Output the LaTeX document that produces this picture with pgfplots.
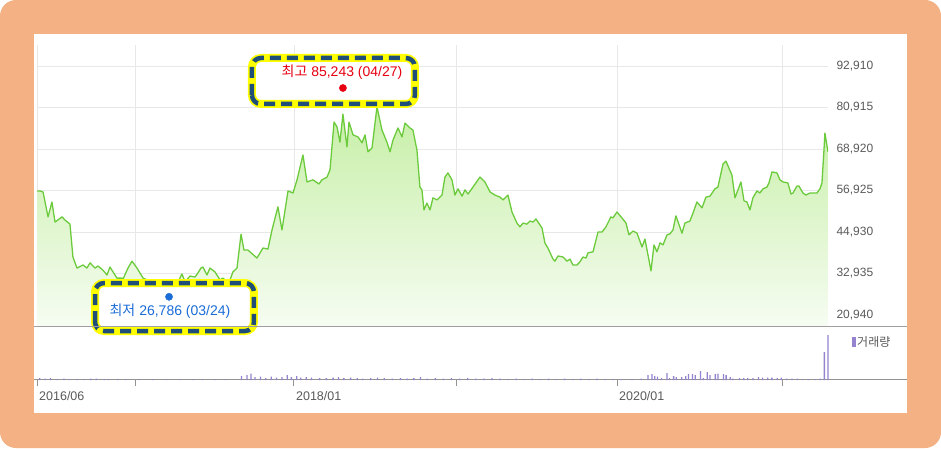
\documentclass[border=0pt]{standalone}
\usepackage{pgfplots}
\pgfplotsset{compat=1.18}
\usepackage{pgfplotstable}
\usepackage{fontspec}
\setmainfont{Liberation Sans}
\newfontfamily\kr{Noto Sans CJK KR}

\definecolor{frameor}{HTML}{F4B183}
\definecolor{pline}{HTML}{6CCB3C}
\definecolor{ftop}{HTML}{C6EFA6}
\definecolor{fbot}{HTML}{F6FCF2}
\definecolor{gridc}{HTML}{E8E8E8}
\definecolor{tickc}{HTML}{5A5A5A}
\definecolor{volc}{HTML}{9683CF}
\definecolor{navy}{HTML}{1F4E79}
\definecolor{hiyel}{HTML}{FFFF00}
\definecolor{hired}{HTML}{E60012}
\definecolor{loblue}{HTML}{1A6CD6}

% month index: 0 = 2016/06
\pgfplotstableread{
m v
0.00 56800
0.22 56800
0.45 56500
0.82 49300
1.11 53600
1.34 47800
1.86 49300
2.08 48400
2.45 47200
2.67 37700
2.97 34500
3.42 35400
3.71 34500
3.94 36000
4.31 34500
4.53 35100
4.90 33900
5.20 32500
5.42 34800
5.94 31600
6.32 31600
6.39 31300
6.69 33900
6.76 34500
7.06 36500
7.43 34500
7.88 31600
8.17 31100
8.62 30200
8.92 27600
9.29 29000
9.66 28200
10.10 30200
10.48 30500
10.77 32800
11.00 30500
11.37 32200
11.74 31900
11.96 33100
12.18 34500
12.33 34800
12.63 32500
12.85 34500
13.22 33400
13.60 31100
13.82 31600
14.12 30500
14.34 31100
14.56 33400
14.86 34500
15.16 44300
15.38 39700
15.68 39700
16.34 37400
16.79 40300
17.16 40000
17.46 45500
17.90 52200
18.20 45500
18.65 56800
19.02 56200
19.32 60000
19.76 67200
20.06 59400
20.51 60000
20.95 58800
21.17 60000
21.55 60800
21.77 62900
22.07 76700
22.29 75300
22.51 70900
22.73 79000
23.03 69500
23.18 76700
23.48 73000
23.85 72400
24.15 70700
24.37 73000
24.59 68100
24.89 69200
25.26 81100
25.63 74400
26.00 70900
26.23 68100
26.45 71500
26.82 75000
27.12 72400
27.34 76400
27.71 75000
27.93 74400
28.23 68600
28.45 57900
28.60 57100
28.75 51300
28.97 53300
29.20 51300
29.42 54800
29.72 54200
30.09 55600
30.31 60800
30.53 62000
30.83 60000
31.05 55600
31.28 57400
31.58 55300
31.80 57100
32.02 55900
32.39 57900
32.91 60800
33.28 59400
33.66 56500
34.03 55600
34.40 55000
34.62 54200
34.99 55600
35.29 50700
35.66 47500
35.88 46400
36.11 47500
36.40 47200
36.63 48100
36.85 47800
37.07 48700
37.52 46100
37.74 41700
37.96 40300
38.34 37100
38.48 36500
38.71 38000
39.08 37700
39.38 36500
39.60 37100
39.82 35400
40.12 35400
40.34 36300
40.56 37700
40.79 37400
40.94 38900
41.31 39200
41.68 44900
41.98 44900
42.27 46400
42.64 49300
42.79 49000
43.09 50700
43.46 49000
43.76 47500
43.98 44100
44.28 45200
44.58 44600
44.95 40600
45.17 42900
45.62 33700
45.84 41200
46.06 39200
46.29 41800
46.51 41200
46.81 44100
47.03 44400
47.25 45500
47.47 49600
47.92 44600
48.14 47500
48.51 48100
48.74 50400
49.03 53600
49.41 51900
49.70 55000
50.00 55300
50.37 57400
50.59 57900
50.97 64600
51.19 65400
51.63 61400
51.86 54800
52.30 59400
52.53 53900
52.75 53600
52.97 51300
53.19 54800
53.49 56800
53.71 56200
53.94 57400
54.23 57900
54.38 59100
54.61 62300
54.98 62000
55.20 60000
55.42 59400
55.79 59100
56.02 55900
56.17 56200
56.46 58200
56.61 58200
56.91 56200
57.13 55600
57.43 56200
57.95 56200
58.17 57400
58.32 59100
58.47 68600
58.54 73500
58.77 68100
}\price

\begin{document}
\begin{tikzpicture}[x=1pt,y=1pt]
\useasboundingbox (0,0) rectangle (941,448);
\fill[white] (0,0) rectangle (941,448);
\fill[frameor, rounded corners=16pt] (0,0) rectangle (941,448);
\fill[white] (34,35) rectangle (907,414);

% price panel
\begin{axis}[
  at={(37pt,122pt)}, anchor=south west,
  scale only axis, width=791pt, height=281pt,
  xmin=0, xmax=58.77, ymin=17761, ymax=98970,
  axis line style={draw=none},
  major tick length=0pt,
  xtick={0,7.28,19.09,31.13,43.09,55.35},
  xticklabels={},
  ytick={20940,32935,44930,56925,68920,80915,92910},
  yticklabels={{20,940},{32,935},{44,930},{56,925},{68,920},{80,915},{92,910}},
  scaled y ticks=false,
  yticklabel pos=right,
  yticklabel style={font=\fontsize{12}{14}\selectfont, text=tickc, xshift=5pt},
  grid=major,
  grid style={gridc, line width=0.8pt},
  clip mode=individual,
]
\addplot[draw=none, top color=ftop, bottom color=fbot] table[x=m, y=v] {\price} \closedcycle;
\addplot[pline, line width=1.3pt, line join=round] table[x=m, y=v] {\price};

% highest
\draw[hiyel, line width=8pt, rounded corners=9pt, fill=white] (15.97,81919) rectangle (28.08,95213);
\draw[navy, line width=4.5pt, rounded corners=9pt, dash pattern=on 11pt off 6pt] (15.97,81919) rectangle (28.08,95213);
\node[text=hired, font=\fontsize{14}{16}\selectfont] at (22.66,91167) {{\kr 최고} 85,243 (04/27)};
% lowest
\draw[hiyel, line width=8pt, rounded corners=9pt, fill=white] (4.31,16316) rectangle (16.12,30188);
\draw[navy, line width=4.5pt, rounded corners=9pt, dash pattern=on 11pt off 6pt] (4.31,16316) rectangle (16.12,30188);
\node[text=loblue, font=\fontsize{14}{16}\selectfont] at (9.88,22096) {{\kr 최저} 26,786 (03/24)};

\addplot[only marks, mark=*, mark size=3.6pt, hired, mark options={yshift=4.5pt}] coordinates {(22.73,85243)};
\addplot[only marks, mark=*, mark size=3.6pt, loblue, mark options={yshift=-2pt}] coordinates {(9.81,26786)};
\end{axis}

% separators
\draw[gray!75, line width=1.3pt] (34,121.5) -- (907,121.5);
\draw[gray!85, line width=1pt] (34,68.5) -- (907,68.5);

% volume panel
\begin{axis}[
  at={(37pt,68pt)}, anchor=south west,
  scale only axis, width=791pt, height=45pt,
  xmin=0, xmax=58.77, ymin=0, ymax=45,
  axis line style={draw=none},
  ytick=\empty,
  xtick pos=bottom,
  xtick={0,7.28,19.09,31.13,43.09,55.35},
  xticklabels={2016/06,,2018/01,,2020/01,},
  tick align=outside,
  major tick length=6pt,
  tick style={gray!85, line width=0.9pt},
  xticklabel style={anchor=north west, font=\fontsize{12.5}{14}\selectfont, text=tickc, inner sep=2pt, yshift=-3pt},
  clip=false,
]
\addplot[ybar, bar width=1.3pt, fill=volc, draw=none] coordinates {
(0.2,2) (0.6,1.5) (1.0,2) (1.5,1) (2.0,1.5) (2.4,1) (3.0,0.8) (3.5,0.5)
(4.0,1.5) (4.4,1.5) (5.0,1) (5.3,1) (6.0,1.2) (6.6,0.8) (7.6,0.6) (8.6,0.8)
(9.6,0.5) (10.6,0.8) (11.6,0.5) (12.3,1) (13.2,0.6) (14.0,0.8) (15.2,4)
(15.6,5) (15.9,6.5) (16.2,3) (16.6,3.5) (17.0,2) (17.4,3.5) (17.8,2.5)
(18.2,3) (18.6,5) (18.9,3) (19.3,4) (19.6,2.5) (20.0,3) (20.4,2.5) (21.0,2)
(21.5,2) (22.0,2.5) (22.4,3) (22.8,2) (23.3,2.5) (23.8,2) (24.2,1.5)
(24.8,2) (25.3,2.5) (25.8,2) (26.4,1.5) (27.0,2) (27.5,1.5) (28.0,2)
(28.5,3) (29.0,1.5) (29.6,2) (30.2,1.5) (30.8,2) (31.4,1.5) (32.0,2)
(32.6,1.5) (33.2,1.5) (33.8,2) (34.4,1.5) (35.0,1) (35.6,1.5) (36.2,1)
(36.8,1.5) (37.4,1) (38.0,1.5) (38.6,1) (39.2,1.5) (39.8,1) (40.4,1.5)
(41.0,1) (41.6,1.5) (42.2,1) (42.8,1) (43.4,1) (44.2,1) (44.9,1.5)
(45.4,5) (45.7,6) (45.9,4) (46.1,3.5) (46.4,2) (46.8,7) (47.0,2) (47.3,4)
(47.5,3) (47.9,3) (48.2,4) (48.4,6) (48.7,6) (48.9,5) (49.3,9) (49.5,2)
(49.8,8) (50.0,5) (50.4,6) (50.6,6.5) (51.0,6) (51.2,5) (51.5,3) (51.7,1.5)
(52.2,2) (52.5,2) (52.8,2) (53.2,2) (53.6,3) (53.9,2.5) (54.3,2.5)
(54.6,2.5) (55.0,2) (55.3,2.5) (55.7,1.5) (56.1,1.5) (56.5,1.5) (56.9,1)
(57.3,1) (57.8,1) (58.2,1.5) (58.5,28) (58.77,45)
};
\end{axis}

% volume legend
\fill[volc] (852,101) rectangle (855.5,111);
\node[anchor=west, inner sep=0pt, text=tickc, font=\kr\fontsize{12}{14}\selectfont] at (857,106) {거래량};
\end{tikzpicture}
\end{document}
